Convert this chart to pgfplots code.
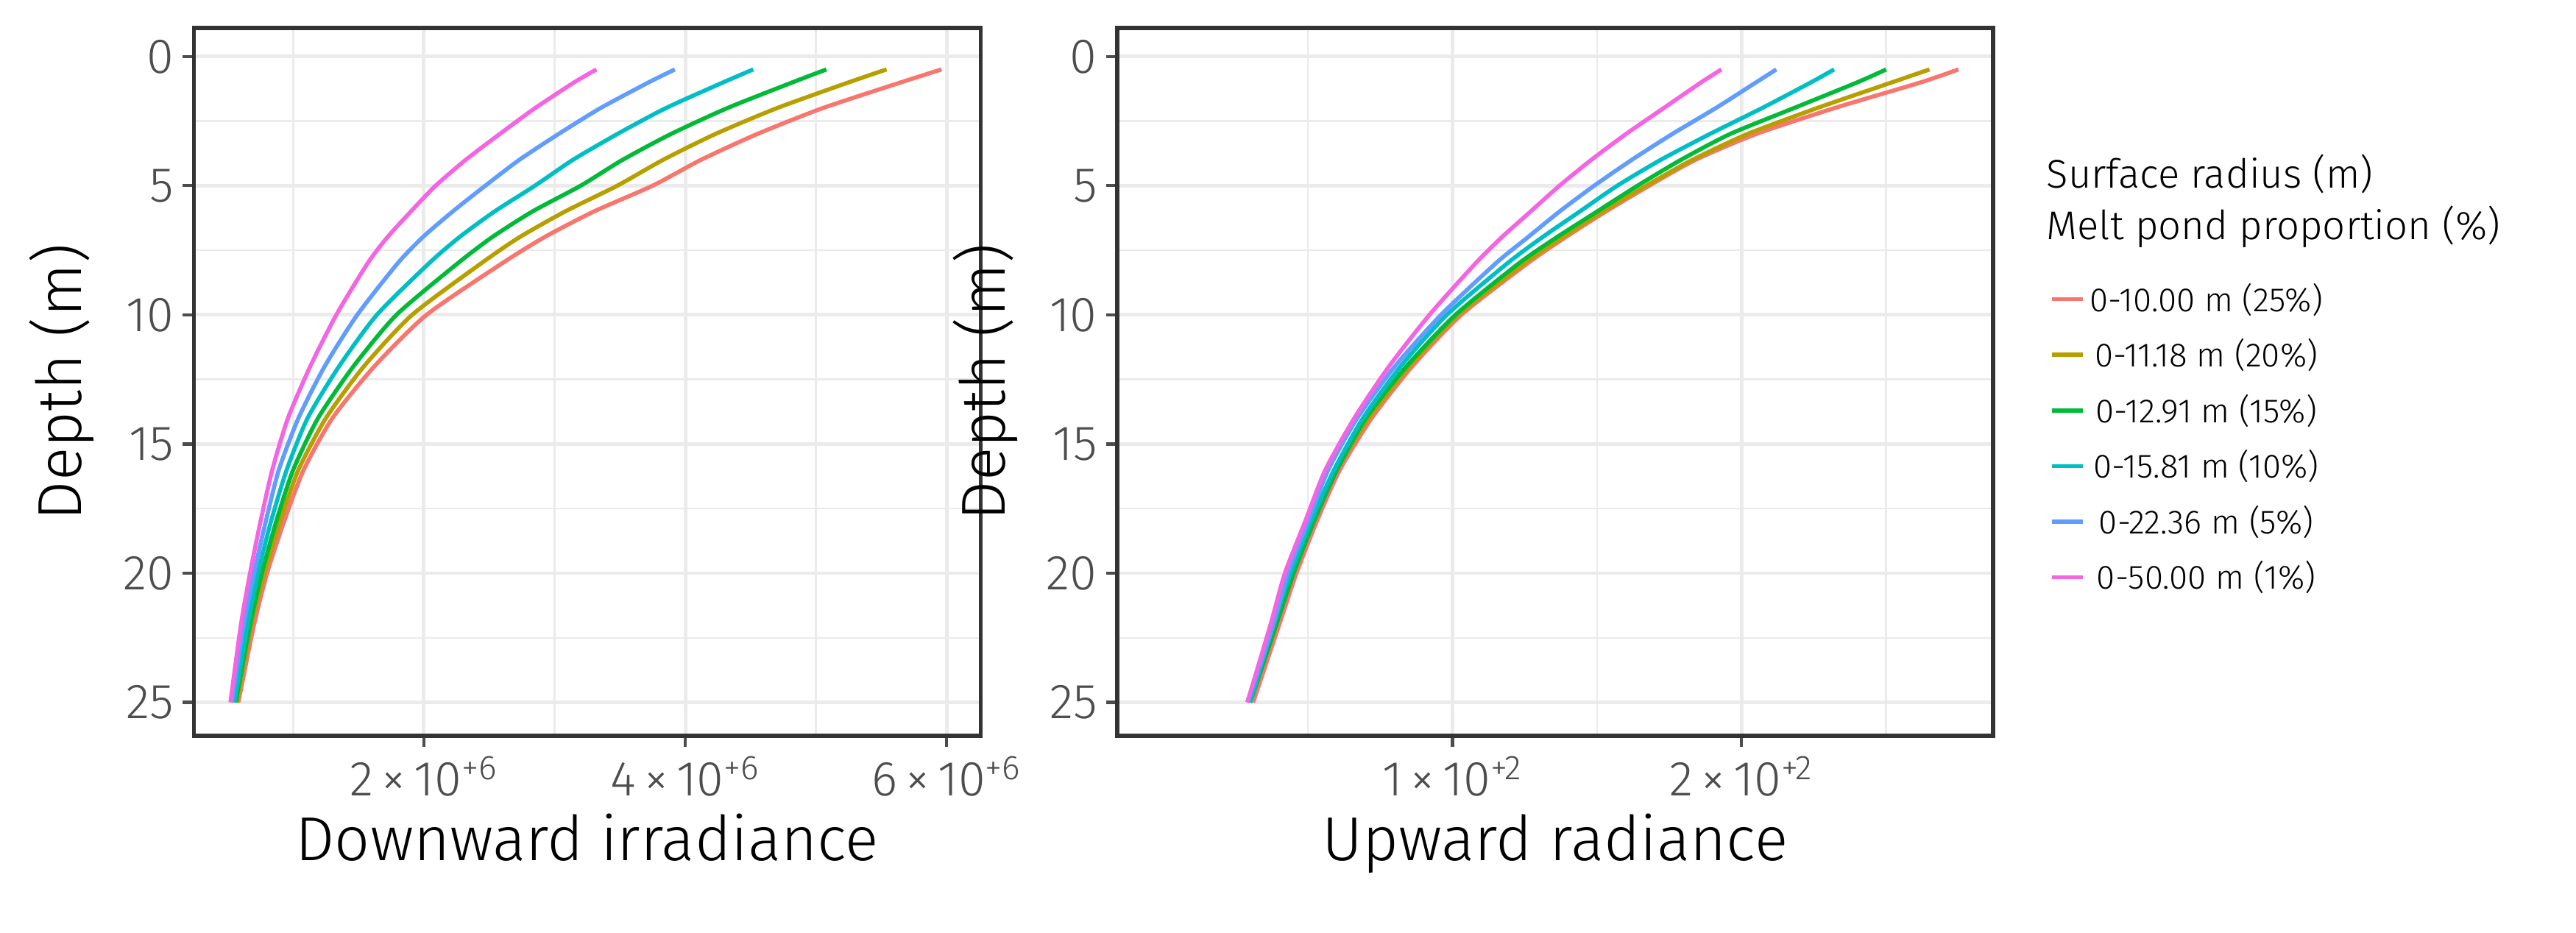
\documentclass[border=0pt]{standalone}
\usepackage{pgfplots}
\pgfplotsset{compat=1.18}
\usepackage{fontspec}
\setmainfont{Fira Sans Light}
\definecolor{c1}{HTML}{F8766D}\definecolor{c2}{HTML}{B79F00}\definecolor{c3}{HTML}{00BA38}
\definecolor{c4}{HTML}{00BFC4}\definecolor{c5}{HTML}{619CFF}\definecolor{c6}{HTML}{F564E3}
\definecolor{tickg}{HTML}{4D4D4D}\definecolor{gridg}{HTML}{EBEBEB}
\pgfplotsset{
 base/.style={scale only axis, height=9.62cm, y dir=reverse, ymin=-1.1, ymax=26.3,
  ytick={0,5,10,15,20,25}, minor ytick={2.5,7.5,12.5,17.5,22.5},
  grid=both, major grid style={gridg, line width=1.4pt}, minor grid style={gridg, line width=0.7pt},
  axis line style={draw=black!80, line width=1.6pt}, tick style={tickg, line width=1.2pt},
  major tick length=0.15cm, minor tick length=0pt, tick align=outside,
  xtick pos=bottom, ytick pos=left,
  ticklabel style={font=\fontsize{19}{21}\selectfont, text=tickg},
  /pgf/number format/assume math mode=true,
  label style={font=\fontsize{24}{27}\selectfont},
  ylabel={Depth (m)}, ylabel style={yshift=0.15cm},
  every axis plot/.append style={line width=1.6pt, no marks, smooth, tension=0.4}}}
\begin{document}
\begin{tikzpicture}[x=1cm,y=1cm]
\useasboundingbox (0,0) rectangle (35,12.68);
\begin{axis}[base, at={(2.634cm,2.678cm)}, width=10.69cm, xmin=0.24, xmax=6.26,
  xtick={2,4,6}, minor xtick={1,3,5},
  xticklabels={2\,×\,10\textsuperscript{+6},4\,×\,10\textsuperscript{+6},6\,×\,10\textsuperscript{+6}},
  xlabel={Downward irradiance}]
\addplot[c1] coordinates {(5.96,0.5)(5.65,1)(5.05,2)(4.55,3)(4.12,4)(3.75,5)(3.30,6)(2.92,7)(2.60,8)(2.02,10)(1.62,12)(1.30,14)(1.08,16)(0.93,18)(0.80,20)(0.70,22)(0.58,25)};
\addplot[c2] coordinates {(5.54,0.5)(5.25,1)(4.70,2)(4.23,3)(3.83,4)(3.48,5)(3.08,6)(2.73,7)(2.44,8)(1.91,10)(1.54,12)(1.25,14)(1.04,16)(0.90,18)(0.78,20)(0.68,22)(0.57,25)};
\addplot[c3] coordinates {(5.08,0.5)(4.82,1)(4.32,2)(3.89,3)(3.52,4)(3.20,5)(2.83,6)(2.52,7)(2.26,8)(1.79,10)(1.46,12)(1.19,14)(1.00,16)(0.87,18)(0.76,20)(0.67,22)(0.56,25)};
\addplot[c4] coordinates {(4.52,0.5)(4.29,1)(3.85,2)(3.48,3)(3.14,4)(2.85,5)(2.54,6)(2.27,7)(2.04,8)(1.64,10)(1.35,12)(1.11,14)(0.95,16)(0.83,18)(0.73,20)(0.65,22)(0.55,25)};
\addplot[c5] coordinates {(3.92,0.5)(3.72,1)(3.35,2)(3.03,3)(2.73,4)(2.47,5)(2.22,6)(1.99,7)(1.80,8)(1.49,10)(1.24,12)(1.04,14)(0.89,16)(0.79,18)(0.70,20)(0.62,22)(0.53,25)};
\addplot[c6] coordinates {(3.32,0.5)(3.15,1)(2.85,2)(2.58,3)(2.32,4)(2.09,5)(1.90,6)(1.72,7)(1.57,8)(1.33,10)(1.13,12)(0.96,14)(0.84,16)(0.75,18)(0.67,20)(0.60,22)(0.52,25)};
\end{axis}
\begin{axis}[base, at={(15.18cm,2.678cm)}, width=11.90cm, xmin=-16, xmax=287,
  xtick={100,200}, minor xtick={50,150,250},
  xticklabels={1\,×\,10\textsuperscript{+2},2\,×\,10\textsuperscript{+2}},
  xlabel={Upward radiance},
  legend style={at={(1.055,0.655)}, anchor=north west, draw=none, fill=none,
    font=\fontsize{13}{15}\selectfont, row sep=0.18cm, /tikz/every even column/.append style={column sep=0.2cm}},
  legend image code/.code={\draw[#1, line width=1.6pt] (0cm,0cm) -- (0.42cm,0cm);}]
\addplot[c1] coordinates {(275,0.5)(262,1)(232,2)(205,3)(184,4)(168,5)(153,6)(139,7)(126,8)(103,10)(86,12)(72,14)(61,16)(53,18)(46,20)(40,22)(31,25)};
\addplot[c2] coordinates {(265,0.5)(252,1)(226,2)(202,3)(183,4)(167,5)(152,6)(138,7)(125,8)(102,10)(85,12)(71,14)(60,16)(52,18)(45,20)(39,22)(30,25)};
\addplot[c3] coordinates {(250,0.5)(240,1)(218,2)(196,3)(179,4)(164,5)(150,6)(136,7)(123,8)(101,10)(84,12)(70,14)(60,16)(52,18)(45,20)(39,22)(30,25)};
\addplot[c4] coordinates {(232,0.5)(224,1)(207,2)(189,3)(172,4)(157,5)(144,6)(131,7)(119,8)(98,10)(82,12)(69,14)(59,16)(51,18)(44,20)(38,22)(30,25)};
\addplot[c5] coordinates {(212,0.5)(205,1)(191,2)(176,3)(162,4)(149,5)(137,6)(126,7)(115,8)(96,10)(80,12)(67,14)(57,16)(50,18)(43,20)(38,22)(29,25)};
\addplot[c6] coordinates {(193,0.5)(186,1)(173,2)(160,3)(148,4)(137,5)(127,6)(117,7)(108,8)(92,10)(78,12)(66,14)(56,16)(49,18)(42,20)(37,22)(29,25)};
\legend{0-10.00 m (25\%),0-11.18 m (20\%),0-12.91 m (15\%),0-15.81 m (10\%),0-22.36 m (5\%),0-50.00 m (1\%)}
\end{axis}
\node[anchor=west, align=left, font=\fontsize{15.5}{20}\selectfont, inner sep=0pt] at (27.8,9.95) {Surface radius (m)\\Melt pond proportion (\%)};
\end{tikzpicture}
\end{document}
